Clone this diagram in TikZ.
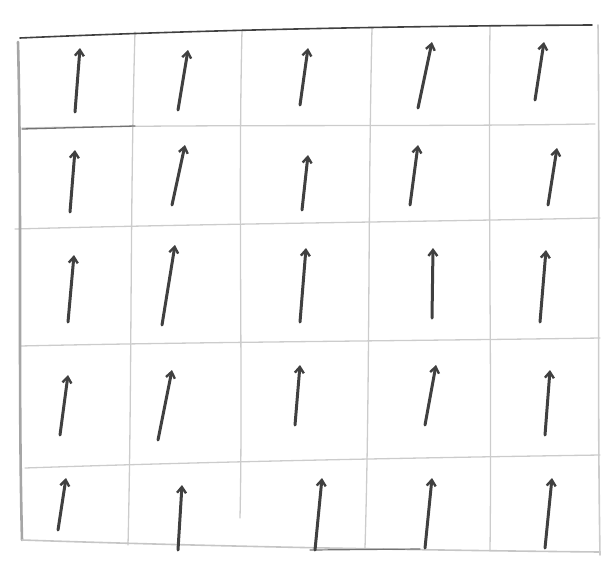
\documentclass[tikz,border=0pt]{standalone}
\usetikzlibrary{arrows.meta}
\begin{document}
\begin{tikzpicture}[x=1pt,y=-1pt,
  frame/.style={line width=1.6pt,gray!70,line cap=round},
  gridline/.style={line width=1.3pt,gray!40,line cap=round},
  spin/.style={line width=3pt,black!75,line cap=round,
    -{Straight Barb[length=6pt,width=9pt,line width=2.4pt]}}]
\useasboundingbox (0,0) rectangle (609,570);
% grid lines
\draw[gridline] (22,128) .. controls (200,124) and (400,127) .. (595,124);
\draw[gridline] (15,229) .. controls (200,224) and (400,222) .. (600,218);
\draw[gridline] (20,346) .. controls (200,342) and (400,341) .. (600,338);
\draw[gridline] (25,468) .. controls (200,462) and (400,458) .. (600,455);
\draw[gridline] (135,32) .. controls (130,200) and (132,380) .. (128,545);
\draw[gridline] (242,30) .. controls (238,200) and (243,380) .. (240,518);
\draw[gridline] (372,28) .. controls (368,200) and (370,380) .. (365,548);
\draw[gridline] (490,25) .. controls (488,200) and (492,380) .. (490,550);
% frame
\draw[frame,black!75] (20,38) .. controls (200,30) and (400,26) .. (592,25);
\draw[frame,line width=2.6pt] (18,42) .. controls (22,200) and (18,380) .. (22,540);
\draw[frame,gray!45] (22,540) .. controls (200,546) and (400,550) .. (600,552);
\draw[frame,gray!40] (598,25) .. controls (600,200) and (597,380) .. (600,555);
\draw[gridline,black!55] (22,129) -- (135,126);
\draw[frame,black!55,line width=1.2pt] (310,550) -- (420,549);
% arrows
\foreach \bx/\by/\tx/\ty in {
  75/112/80/48, 178/110/188/50, 300/105/308/48, 418/108/432/42, 535/100/544/42,
  70/212/75/150, 172/205/185/145, 302/210/308/155, 410/205/418/145, 548/205/557/148,
  68/322/74/255, 162/325/175/245, 300/322/306/248, 432/318/433/248, 540/322/546/250,
  60/435/68/375, 158/440/172/370, 295/425/300/365, 425/425/436/365, 545/435/550/370,
  58/530/66/478, 178/550/182/485, 315/550/322/478, 425/548/432/478, 545/548/552/478}
  \draw[spin] (\bx,\by) -- (\tx,\ty);
\end{tikzpicture}
\end{document}
